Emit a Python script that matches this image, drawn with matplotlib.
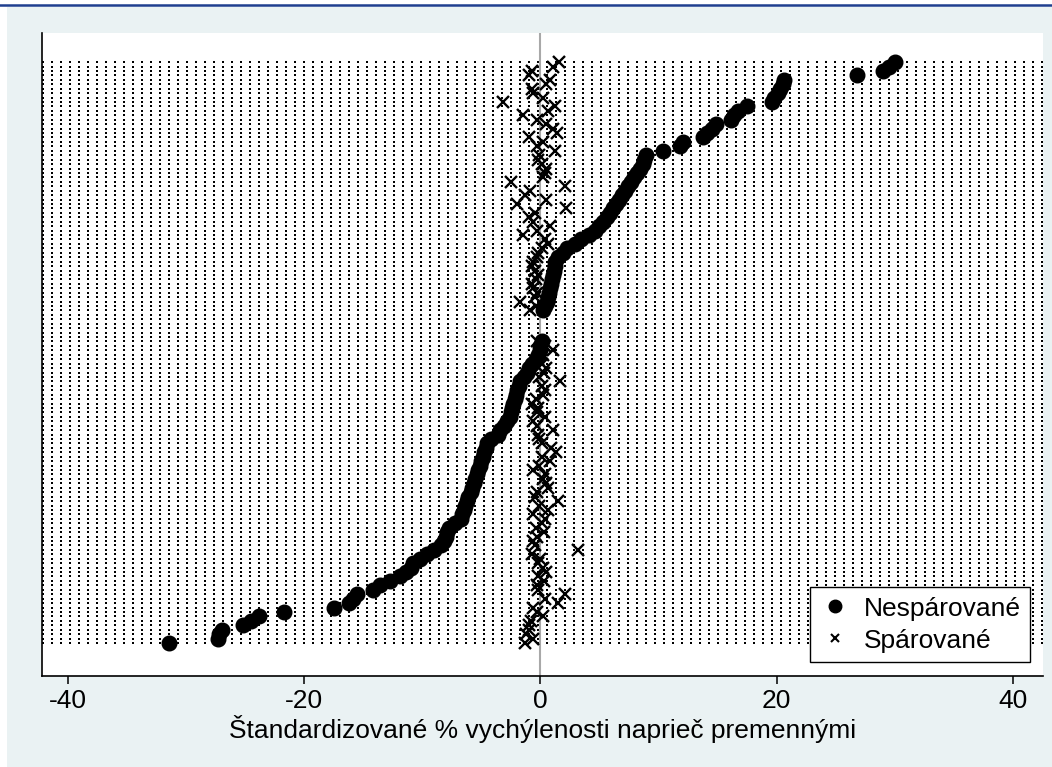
import matplotlib
matplotlib.use("Agg")
import matplotlib.pyplot as plt
from matplotlib.patches import Rectangle
from matplotlib.lines import Line2D
import numpy as np

plt.rcParams["font.family"] = ["Liberation Sans", "DejaVu Sans"]

W, H = 1052, 767
nan = float("nan")

# standardised % bias, one entry per covariate, sorted by unmatched bias (bottom -> top)
unmatched_low = [
    -31.45, -27.3, -27.2, -27.0, -25.2, -24.5, -23.8, -21.7, -17.5, -16.2,
    -15.9, -15.5, -14.2, -13.6, -12.7, -11.9, -11.4, -11.0, -10.8, -10.2,
    -9.6, -9.0, -8.4, -8.2, -8.0, -7.9, -7.7, -7.2, -6.7, -6.6,
    -6.5, -6.4, -6.2, -6.1, -5.9, -5.8, -5.6, -5.5, -5.35, -5.25,
    -5.15, -5.0, -4.85, -4.75, -4.65, -4.55, -4.2, -3.6, -3.4, -3.1,
    -2.8, -2.6, -2.5, -2.4, -2.3, -2.15, -2.05, -1.95, -1.8, -1.7,
    -1.4, -1.15, -0.95, -0.7, -0.35, -0.2, -0.05, 0.0, 0.1,
]
unmatched_high = [
    0.24, 0.38, 0.52, 0.62, 0.72, 0.80, 0.90, 1.0, 1.09, 1.15,
    1.2, 1.25, 1.5, 1.9, 2.25, 2.9, 3.4, 4.1, 4.6, 4.95,
    5.3, 5.65, 5.9, 6.15, 6.4, 6.65, 6.9, 7.15, 7.4, 7.7,
    7.95, 8.2, 8.45, 8.65, 8.8, 8.95, 10.4, 11.8, 12.1, 13.8,
    14.1, 14.5, 14.9, 16.1, 16.4, 16.7, 17.5, 19.6, 19.8, 20.1,
    20.3, 20.5, 20.6, 26.8, 29.0, 29.5, 30.0,
]
matched_low = [
    -1.3, -0.6, -1.2, -1.0, -1.0, -0.8, 0.24, -0.3, -0.6, 1.5,
    0.4, 2.07, -0.2, -0.3, 0.3, -0.19, 0.5, 0.24, -0.2, -0.05,
    -0.75, 3.2, -0.5, -0.6, -0.3, 0.3, -0.4, 0.1, 0.4, -0.6,
    0.66, -0.1, 1.5, -0.45, -0.3, 0.66, 0.5, 0.2, 0.38, -0.6,
    -0.1, 0.8, 0.1, 1.3, 0.9, 0.1, -0.1, -0.19, 1.08, -0.3,
    -0.6, 0.38, -0.3, -0.19, -0.75, -0.4, 0.2, 0.38, 0.1, 1.65,
    -0.1, 0.3, 0.5, 0.1, -0.2, 0.2, 1.03, 0.4, -0.3,
]
matched_high = [
    -0.9, -0.4, -1.7, -0.5, -0.3, -0.6, -0.75, -0.4, -0.2, -0.5,
    -0.75, -0.6, -0.3, -0.2, 0.1, 0.66, 0.38, -1.46, -0.3, 0.8,
    -0.6, -1.0, -0.5, 2.2, -2.0, 0.5, -1.3, -0.9, 2.07, -2.5,
    0.2, 0.38, 0.5, 0.1, -0.19, -0.1, 1.2, -0.3, 0.24, -1.0,
    1.37, 1.1, 0.5, -0.3, -1.46, 0.66, 1.2, -3.2, 0.24, -0.6,
    -0.75, 0.5, 0.8, -1.0, -0.75, 1.1, 1.6,
]
empty_rows = [nan] * 6

unmatched = np.array(unmatched_low + empty_rows + unmatched_high)
matched = np.array(matched_low + empty_rows + matched_high)
rows = np.arange(1, len(unmatched) + 1)

xticks = [-40, -20, 0, 20, 40]
xlabel = "Štandardizované % vychýlenosti naprieč premennými"
labels = ["Nespárované", "Spárované"]

fig = plt.figure(figsize=(W / 100, H / 100), dpi=100)
fig.patch.set_facecolor("white")
fig.patches.append(Rectangle((7 / W, 0), 1, 1 - 7 / H, transform=fig.transFigure,
                             facecolor="#EAF2F3", edgecolor="none", zorder=-10))
fig.add_artist(Line2D([0, 1], [1 - 5 / H] * 2, color="#1F3F8F", lw=1.8))

ax = fig.add_axes([42 / W, 1 - 676 / H, 1001 / W, 643 / H])
ax.set_facecolor("white")
xlim = (-42.2, 42.55)
ax.set_xlim(*xlim)
ax.set_ylim(-6.44, len(rows) + 6.56)

ax.hlines(rows, xlim[0], xlim[1], colors="black", linewidth=1.44,
          linestyles=(0, (1, 4)), antialiaseds=False, zorder=1)
ax.axvline(0, color="#A8A8A8", lw=1.5, zorder=2)

ax.plot(unmatched, rows, ls="", marker="o", markersize=10.5, color="black", zorder=4)
ax.plot(matched, rows, ls="", marker="x", markersize=9, mew=1.7, color="black", zorder=3)

for s in ["top", "right"]:
    ax.spines[s].set_visible(False)
for s in ["left", "bottom"]:
    ax.spines[s].set_linewidth(1.2)
    ax.spines[s].set_color("black")

ax.set_yticks([])
ax.set_xticks(xticks)
ax.set_xticklabels([str(t) for t in xticks])
ax.tick_params(axis="x", length=6, width=1.1, pad=3, labelsize=19, colors="black")
ax.set_xlabel(xlabel, fontsize=19, labelpad=2)

handles = [
    Line2D([], [], ls="", marker="o", markersize=9, color="black"),
    Line2D([], [], ls="", marker="x", markersize=6, mew=1.5, color="black"),
]
leg = ax.legend(handles, labels, loc="lower right", bbox_to_anchor=(0.987, 0.022),
                frameon=True, fancybox=False, edgecolor="black", framealpha=1,
                fontsize=19, handlelength=1.2, handletextpad=0.5, borderpad=0.35,
                labelspacing=0.3, borderaxespad=0)
leg.get_frame().set_linewidth(1.0)

fig.savefig("out.png", dpi=100)
